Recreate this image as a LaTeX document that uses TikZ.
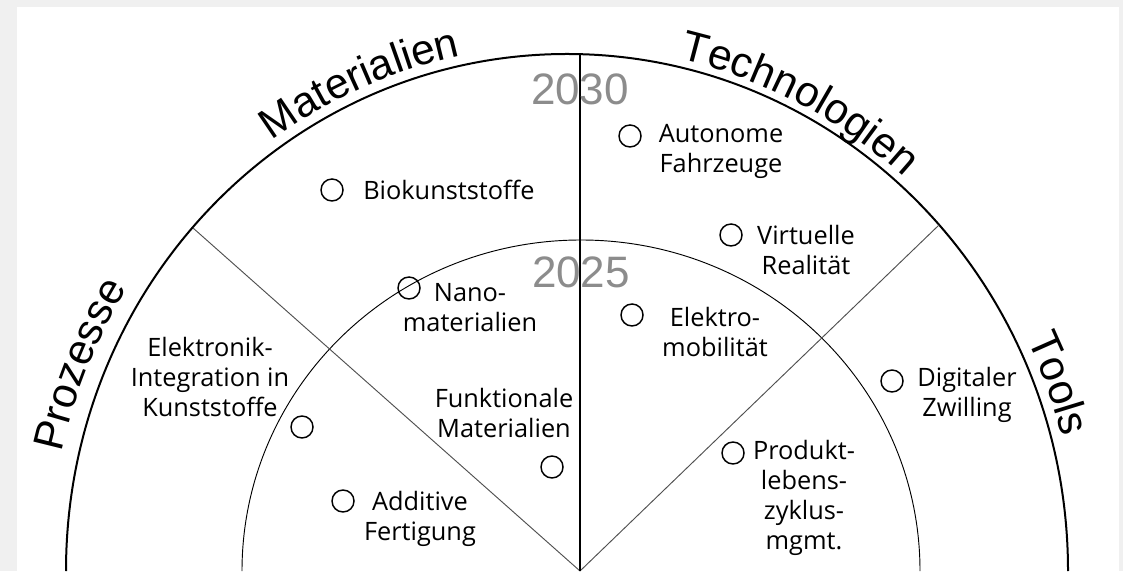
\documentclass[tikz,border=0pt]{standalone}
\usepackage{fontspec}
\setmainfont{Open Sans}
\newfontfamily\headfont{Liberation Sans}
\newcommand\arclabelfont{\headfont\fontsize{32}{32}\selectfont}
\usetikzlibrary{decorations.text}
\definecolor{pagegray}{RGB}{240,240,240}
\definecolor{yeargray}{RGB}{140,140,140}
\definecolor{divider}{RGB}{80,80,80}

\begin{document}
\begin{tikzpicture}[x=0.75pt,y=0.75pt,
  ringouter/.style={line width=1.5pt},
  ringinner/.style={line width=0.7pt},
  spoke/.style={line width=0.7pt, draw=divider},
  axis/.style={line width=0.9pt},
  marker/.style={circle, draw, line width=1.1pt, minimum size=16.5pt, inner sep=0pt},
  item/.style={align=center, font=\fontsize{19}{22.5}\selectfont, inner sep=0pt},
  year/.style={font=\headfont\fontsize{33}{33}\selectfont, text=yeargray, inner sep=0pt},
  arclabel/.style={decorate, decoration={text along path, text align=center, text={|\arclabelfont|#1}}},
]
\useasboundingbox (0,0) rectangle (1123,571);
\fill[pagegray] (0,0) rectangle (1123,571);
\fill[white] (17,0) rectangle (1119,564);

% rings of the radar
\draw[ringouter] (1068,0) arc[start angle=0, end angle=180, x radius=501, y radius=517];
\draw[ringinner] (920,0) arc[start angle=0, end angle=180, x radius=339, y radius=331];

% sector borders
\coordinate (O) at (580,0);
\coordinate (apex) at (580,517);
\coordinate (rimL) at (193,343);
\coordinate (rimR) at (939,346);
\draw[spoke] (rimL) -- (O);
\draw[spoke] (rimR) -- (O);
\draw[axis] (apex) -- (O);

% horizons
\node[year] (y2030) at (580,482) {2030};
\node[year] (y2025) at (581,299) {2025};

% sector titles along the outer ring
\path[arclabel=Prozesse] (567,0) ++(187.5:518 and 534) arc[start angle=187.5, end angle=127.5, x radius=518, y radius=534];
\path[arclabel=Materialien] (567,0) ++(143.5:511 and 527) arc[start angle=143.5, end angle=83.5, x radius=511, y radius=527];
\path[arclabel=Technologien] (567,0) ++(93:509 and 525) arc[start angle=93, end angle=33, x radius=509, y radius=525];
\path[arclabel=Tools] (567,0) ++(50.5:512 and 528) arc[start angle=50.5, end angle=-9.5, x radius=512, y radius=528];

% Materialien
\node[marker] (m1) at (332,381) {};
\node[item, anchor=west] (t1) at (363,381) {Biokunststoffe};
\node[marker] (m2) at (409,283) {};
\node[item] (t2) at (470,263.5) {Nano-\\materialien};
\node[marker] (m3) at (552,104) {};
\node[item] (t3) at (504,157.5) {Funktionale\\Materialien};

% Technologien
\node[marker] (m4) at (630,435) {};
\node[item] (t4) at (721,419.5) {Autonome\\Fahrzeuge};
\node[marker] (m5) at (731,336) {};
\node[item] (t5) at (806,321) {Virtuelle\\Realität};
\node[marker] (m6) at (632,256) {};
\node[item] (t6) at (715,238.5) {Elektro-\\mobilität};

% Prozesse
\node[marker] (m7) at (302,144) {};
\node[item] (t7) at (210,194) {Elektronik-\\Integration in\\Kunststoffe};
\node[marker] (m8) at (343,70) {};
\node[item] (t8) at (420,52) {Additive\\Fertigung};

% Tools
\node[marker] (m9) at (733,118) {};
\node[item] (t9) at (804,73) {Produkt-\\lebens-\\zyklus-\\mgmt.};
\node[marker] (m10) at (892,190) {};
\node[item] (t10) at (967,176.5) {Digitaler\\Zwilling};
\end{tikzpicture}
\end{document}
